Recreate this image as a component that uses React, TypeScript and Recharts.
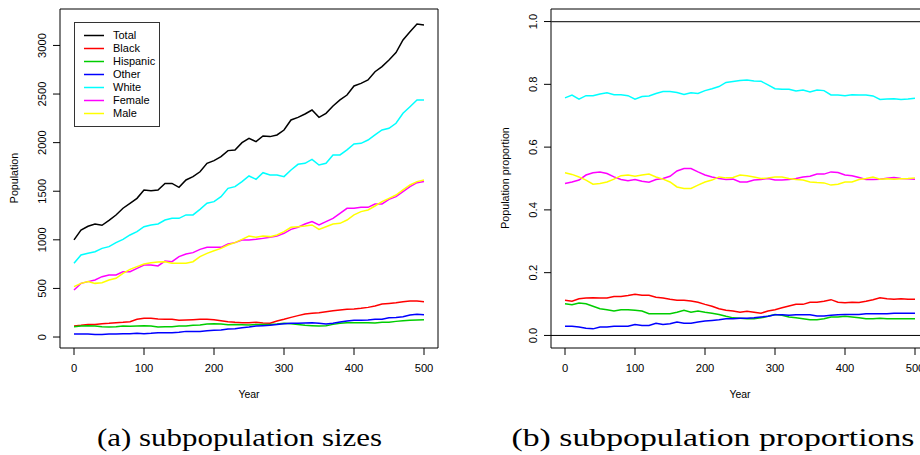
import React from 'react';
import {
  LineChart,
  Line,
  XAxis,
  YAxis,
  Legend,
  ReferenceArea,
  ReferenceLine,
} from 'recharts';

// years sampled every 10 steps
const years = [
  0, 10, 20, 30, 40, 50, 60, 70, 80, 90, 100, 110, 120, 130, 140, 150, 160, 170, 180, 190,
  200, 210, 220, 230, 240, 250, 260, 270, 280, 290, 300, 310, 320, 330, 340, 350, 360, 370, 380, 390,
  400, 410, 420, 430, 440, 450, 460, 470, 480, 490, 500,
];

// (a) subpopulation sizes
const total = [
  1000, 1100, 1140, 1163, 1150, 1200, 1255, 1325, 1375, 1427, 1513, 1506, 1513, 1580, 1580, 1540, 1616, 1650, 1700, 1787,
  1815, 1856, 1918, 1925, 2000, 2045, 2010, 2068, 2062, 2079, 2130, 2233, 2260, 2295, 2336, 2260, 2302, 2377, 2440, 2490,
  2583, 2610, 2645, 2730, 2782, 2850, 2926, 3056, 3142, 3221, 3211,
];
const black = [
  113, 120, 130, 130, 137, 141, 148, 151, 158, 182, 192, 192, 185, 182, 182, 172, 175, 178, 182, 182,
  178, 168, 158, 151, 148, 148, 151, 144, 141, 165, 182, 202, 220, 237, 244, 250, 261, 271, 278, 285,
  288, 295, 305, 319, 340, 346, 353, 364, 370, 370, 364,
];
const hispanic = [
  106, 113, 117, 113, 106, 103, 106, 113, 110, 113, 117, 113, 103, 106, 106, 113, 113, 120, 124, 134,
  137, 134, 127, 130, 127, 124, 130, 130, 130, 134, 141, 137, 130, 120, 117, 113, 117, 130, 141, 148,
  148, 148, 148, 144, 151, 151, 161, 168, 172, 175, 178,
];
const other = [
  31, 31, 31, 27, 27, 31, 31, 34, 34, 38, 34, 38, 45, 45, 45, 48, 58, 58, 58, 65,
  69, 72, 82, 86, 96, 103, 113, 117, 120, 130, 137, 141, 141, 144, 148, 141, 134, 141, 154, 165,
  172, 172, 175, 182, 182, 199, 202, 209, 226, 233, 230,
];
const white = [
  758, 844, 861, 878, 912, 930, 971, 1005, 1050, 1084, 1135, 1153, 1163, 1204, 1221, 1221, 1256, 1256, 1314, 1376,
  1393, 1444, 1530, 1547, 1599, 1657, 1623, 1691, 1667, 1667, 1650, 1719, 1777, 1787, 1828, 1770, 1787, 1873, 1873, 1925,
  1986, 1993, 2027, 2079, 2130, 2147, 2199, 2302, 2370, 2439, 2439,
];
const female = [
  484, 552, 570, 587, 621, 638, 638, 672, 672, 707, 741, 741, 731, 782, 775, 827, 854, 868, 902, 923,
  923, 923, 957, 971, 998, 998, 1005, 1015, 1026, 1039, 1067, 1108, 1129, 1163, 1187, 1153, 1187, 1221, 1273, 1324,
  1324, 1334, 1334, 1369, 1369, 1417, 1444, 1496, 1547, 1588, 1599,
];
const male = [
  518, 552, 570, 552, 559, 587, 604, 655, 696, 724, 751, 765, 772, 775, 758, 758, 758, 775, 827, 861,
  888, 912, 947, 971, 1005, 1039, 1026, 1039, 1033, 1050, 1084, 1129, 1135, 1142, 1153, 1108, 1135, 1163, 1170, 1204,
  1256, 1290, 1307, 1348, 1393, 1427, 1461, 1513, 1564, 1599, 1616,
];

// (b) subpopulation proportions
const pBlack = [
  0.112, 0.109, 0.117, 0.119, 0.12, 0.119, 0.119, 0.124, 0.124, 0.127, 0.131, 0.128, 0.128, 0.122, 0.119, 0.115, 0.112, 0.112, 0.11, 0.106,
  0.099, 0.093, 0.085, 0.08, 0.078, 0.074, 0.077, 0.074, 0.071, 0.078, 0.082, 0.088, 0.094, 0.099, 0.099, 0.106, 0.106, 0.109, 0.114, 0.106,
  0.104, 0.106, 0.105, 0.109, 0.114, 0.12, 0.117, 0.115, 0.117, 0.115, 0.115,
];
const pHispanic = [
  0.101, 0.098, 0.103, 0.101, 0.093, 0.085, 0.082, 0.078, 0.082, 0.082, 0.08, 0.078, 0.069, 0.069, 0.069, 0.069, 0.074, 0.08, 0.074, 0.078,
  0.074, 0.071, 0.067, 0.061, 0.056, 0.055, 0.053, 0.053, 0.056, 0.061, 0.067, 0.064, 0.059, 0.056, 0.053, 0.05, 0.05, 0.053, 0.059, 0.059,
  0.061, 0.059, 0.056, 0.053, 0.053, 0.055, 0.053, 0.053, 0.053, 0.053, 0.053,
];
const pOther = [
  0.029, 0.029, 0.027, 0.023, 0.021, 0.027, 0.027, 0.029, 0.029, 0.029, 0.035, 0.032, 0.032, 0.039, 0.035, 0.037, 0.043, 0.039, 0.039, 0.043,
  0.046, 0.048, 0.05, 0.053, 0.053, 0.055, 0.055, 0.056, 0.059, 0.061, 0.066, 0.066, 0.064, 0.066, 0.066, 0.066, 0.062, 0.062, 0.064, 0.066,
  0.067, 0.067, 0.067, 0.069, 0.069, 0.069, 0.069, 0.071, 0.071, 0.071, 0.071,
];
const pWhite = [
  0.757, 0.766, 0.753, 0.764, 0.764, 0.769, 0.773, 0.767, 0.767, 0.764, 0.753, 0.761, 0.763, 0.771, 0.777, 0.777, 0.774, 0.768, 0.773, 0.771,
  0.78, 0.786, 0.793, 0.806, 0.809, 0.812, 0.814, 0.811, 0.81, 0.798, 0.786, 0.784, 0.784, 0.779, 0.782, 0.776, 0.782, 0.78, 0.766, 0.766,
  0.764, 0.767, 0.766, 0.766, 0.763, 0.752, 0.753, 0.754, 0.752, 0.753, 0.756,
];
const pFemale = [
  0.484, 0.489, 0.495, 0.511, 0.518, 0.521, 0.516, 0.505, 0.497, 0.493, 0.497, 0.491, 0.488, 0.497, 0.5, 0.507, 0.524, 0.532, 0.532, 0.521,
  0.511, 0.505, 0.5, 0.497, 0.498, 0.489, 0.489, 0.495, 0.497, 0.5, 0.495, 0.495, 0.497, 0.5, 0.505, 0.507, 0.514, 0.514, 0.521, 0.519,
  0.511, 0.509, 0.503, 0.497, 0.497, 0.498, 0.501, 0.503, 0.5, 0.499, 0.498,
];
const pMale = [
  0.518, 0.513, 0.505, 0.495, 0.482, 0.484, 0.489, 0.498, 0.509, 0.511, 0.507, 0.511, 0.514, 0.505, 0.498, 0.489, 0.473, 0.468, 0.468, 0.479,
  0.489, 0.495, 0.505, 0.502, 0.503, 0.511, 0.509, 0.505, 0.5, 0.502, 0.505, 0.505, 0.5, 0.497, 0.495, 0.489, 0.487, 0.486, 0.479, 0.482,
  0.489, 0.489, 0.497, 0.5, 0.505, 0.498, 0.499, 0.498, 0.499, 0.5, 0.502,
];

const xTicks = [0, 100, 200, 300, 400, 500];
const sizeTicks = [0, 500, 1000, 1500, 2000, 2500, 3000];
const propTicks = [0, 0.2, 0.4, 0.6, 0.8, 1.0];

// R default palette
const series = [
  { key: 'total', name: 'Total', color: '#000000' },
  { key: 'black', name: 'Black', color: '#ff0000' },
  { key: 'hispanic', name: 'Hispanic', color: '#00cd00' },
  { key: 'other', name: 'Other', color: '#0000ff' },
  { key: 'white', name: 'White', color: '#00ffff' },
  { key: 'female', name: 'Female', color: '#ff00ff' },
  { key: 'male', name: 'Male', color: '#ffff00' },
];

const sizeData = years.map((year, i) => ({
  year,
  total: total[i],
  black: black[i],
  hispanic: hispanic[i],
  other: other[i],
  white: white[i],
  female: female[i],
  male: male[i],
}));

const propData = years.map((year, i) => ({
  year,
  black: pBlack[i],
  hispanic: pHispanic[i],
  other: pOther[i],
  white: pWhite[i],
  female: pFemale[i],
  male: pMale[i],
}));

const SANS = '"Liberation Sans", Arial, Helvetica, sans-serif';
const SERIF = '"Liberation Serif", "Times New Roman", serif';

// y tick labels are rotated like R's default las=0
const RotatedTick = ({ x, y, payload, digits }: any) => {
  const label = digits ? Number(payload.value).toFixed(digits) : String(payload.value);
  const bx = x - 7;
  return (
    <text
      x={bx}
      y={y}
      transform={`rotate(-90 ${bx} ${y})`}
      textAnchor="middle"
      fontSize={11.2}
      fontFamily={SANS}
      fill="#000"
    >
      {label}
    </text>
  );
};

const LegendBox = () => (
  <div
    style={{
      width: 84,
      height: 103,
      border: '1px solid #333',
      background: '#fff',
      position: 'relative',
      fontFamily: SANS,
      fontSize: 11,
      color: '#000',
    }}
  >
    {series.map((s, i) => (
      <div
        key={s.key}
        style={{ position: 'absolute', left: 0, top: 6 + i * 13, height: 13, display: 'flex', alignItems: 'center' }}
      >
        <svg width={30} height={13} style={{ display: 'block' }}>
          <line x1={9} x2={29} y1={6.5} y2={6.5} stroke={s.color} strokeWidth={1.5} />
        </svg>
        <span style={{ marginLeft: 8, lineHeight: '13px', whiteSpace: 'nowrap' }}>{s.name}</span>
      </div>
    ))}
  </div>
);

const xTickStyle = { fill: '#000', fontSize: 11.2, fontFamily: SANS };

export default function App() {
  return (
    <div
      style={{
        position: 'absolute',
        left: 0,
        top: 0,
        width: 920,
        height: 455,
        overflow: 'hidden',
        background: '#fff',
      }}
    >
      <div style={{ position: 'absolute', left: 0, top: 0 }}>
        <LineChart width={460} height={400} data={sizeData} margin={{ top: 9, right: 22, left: 0, bottom: 0 }}>
          <XAxis
            dataKey="year"
            type="number"
            domain={[-20, 520]}
            ticks={xTicks}
            interval={0}
            allowDataOverflow
            axisLine={false}
            tickLine={{ stroke: '#000' }}
            tickSize={7}
            tickMargin={9}
            height={52}
            tick={xTickStyle}
          />
          <YAxis
            type="number"
            domain={[-113, 3375]}
            ticks={sizeTicks}
            interval={0}
            allowDataOverflow
            axisLine={false}
            tickLine={{ stroke: '#000' }}
            tickSize={7}
            tickMargin={0}
            width={60}
            tick={<RotatedTick />}
          />
          <ReferenceArea x1={-20} x2={520} y1={-113} y2={3375} fill="none" stroke="#000" strokeWidth={1} ifOverflow="visible" />
          {series.map((s) => (
            <Line
              key={s.key}
              type="linear"
              dataKey={s.key}
              name={s.name}
              stroke={s.color}
              strokeWidth={1.5}
              dot={false}
              isAnimationActive={false}
            />
          ))}
          <Legend
            layout="vertical"
            align="center"
            verticalAlign="middle"
            content={() => <LegendBox />}
            wrapperStyle={{ left: 74, top: 22, width: 86, height: 105 }}
          />
        </LineChart>
      </div>

      <div style={{ position: 'absolute', left: 460, top: 0 }}>
        <LineChart width={480} height={400} data={propData} margin={{ top: 9, right: 11, left: 0, bottom: 0 }}>
          <XAxis
            dataKey="year"
            type="number"
            domain={[-20, 520]}
            ticks={xTicks}
            interval={0}
            allowDataOverflow
            axisLine={false}
            tickLine={{ stroke: '#000' }}
            tickSize={7}
            tickMargin={9}
            height={52}
            tick={xTickStyle}
          />
          <YAxis
            type="number"
            domain={[-0.04, 1.04]}
            ticks={propTicks}
            interval={0}
            allowDataOverflow
            axisLine={false}
            tickLine={{ stroke: '#000' }}
            tickSize={7}
            tickMargin={0}
            width={91}
            tick={<RotatedTick digits={1} />}
          />
          <ReferenceArea x1={-20} x2={520} y1={-0.04} y2={1.04} fill="none" stroke="#000" strokeWidth={1} ifOverflow="visible" />
          <ReferenceLine y={1} stroke="#333" strokeWidth={1.2} />
          <ReferenceLine y={0} stroke="#000" strokeWidth={1} />
          {series
            .filter((s) => s.key !== 'total')
            .map((s) => (
              <Line
                key={s.key}
                type="linear"
                dataKey={s.key}
                name={s.name}
                stroke={s.color}
                strokeWidth={1.5}
                dot={false}
                isAnimationActive={false}
              />
            ))}
        </LineChart>
      </div>

      <svg width={920} height={455} style={{ position: 'absolute', left: 0, top: 0, pointerEvents: 'none' }}>
        <text x={249} y={398} textAnchor="middle" fontSize={10.5} fontFamily={SANS} fill="#000">
          Year
        </text>
        <text x={740} y={398} textAnchor="middle" fontSize={10.5} fontFamily={SANS} fill="#000">
          Year
        </text>
        <text transform="translate(17.5,178) rotate(-90)" textAnchor="middle" fontSize={10.7} fontFamily={SANS} fill="#000">
          Population
        </text>
        <text transform="translate(508.5,178) rotate(-90)" textAnchor="middle" fontSize={10.7} fontFamily={SANS} fill="#000">
          Population proportion
        </text>
        <text
          x={239.5}
          y={446}
          textAnchor="middle"
          fontSize={25}
          fontFamily={SERIF}
          fill="#000"
          textLength={285}
          lengthAdjust="spacingAndGlyphs"
        >
          (a) subpopulation sizes
        </text>
        <text
          x={713}
          y={446}
          textAnchor="middle"
          fontSize={25}
          fontFamily={SERIF}
          fill="#000"
          textLength={403}
          lengthAdjust="spacingAndGlyphs"
        >
          (b) subpopulation proportions
        </text>
      </svg>
    </div>
  );
}
